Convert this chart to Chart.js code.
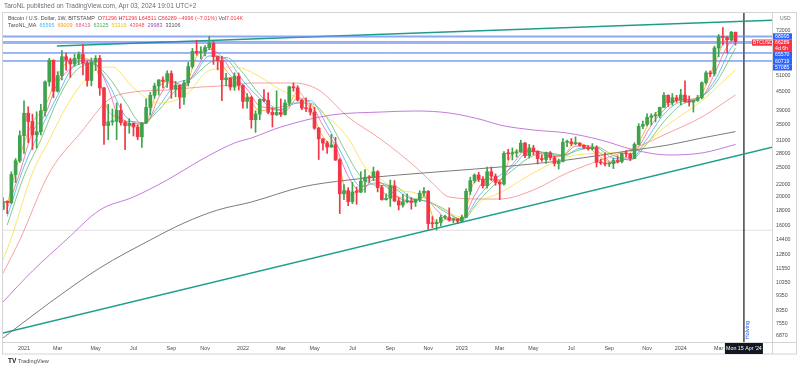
<!DOCTYPE html>
<html><head><meta charset="utf-8">
<script src="https://cdn.jsdelivr.net/npm/chart.js@4.4.1/dist/chart.umd.min.js"></script>
<style>html,body{margin:0;padding:0;background:#fff}#wrap{width:800px;height:370px;position:relative}</style>
</head><body><div id="wrap"><canvas id="c" width="800" height="370"></canvas></div>
<script>
// ---- weekly candles (week index 0 = Mon 4 Jan 2021) ----
const firstWeek = -5;
const opens = [18200,19350,19150,23800,26450,32100,38150,35800,32300,33100,38900,48600,57400,45200,51000,59000,57500,55800,58200,60000,56200,49100,56600,58200,46400,34700,35700,35800,39000,35500,34700,35300,34300,31800,35400,39900,43800,47100,49300,48800,51800,46000,47300,43200,48200,54700,61500,60900,61300,63300,65500,59000,57300,49400,50100,46700,50800,47300,41800,43100,36300,37900,42400,42200,38400,37700,38400,37800,41300,46800,46400,42200,39700,39500,38500,34000,31300,30300,29400,29900,26600,20500,21000,19300,20800,20750,22600,23300,23200,24300,21500,19600,19800,21800,19400,18800,19300,19400,19200,19600,20600,20900,16300,16280,16450,17100,17130,16750,16850,16600,17100,20900,22700,23700,22900,21800,24300,23500,22400,22100,28000,27900,28100,28300,30300,27500,29200,28400,26900,26700,28100,27100,25900,26300,30500,30600,30200,30300,29800,29300,29000,29300,26100,26000,25800,25850,26500,26300,28000,27900,26900,30000,34500,35000,37000,37400,37450,39900,43800,41400,43000,42200,43900,41700,41600,42100,43000,48300,52100,51700,63100,68900,68400,67200,71296];
const highs = [19900,19420,24300,26900,33300,41950,40100,37900,38600,40900,49000,58300,57600,52600,61800,60700,58400,60200,61200,64900,57000,58400,59500,59600,46600,40900,39400,41300,41000,36000,36600,35400,34900,35400,42600,44800,48100,49500,50500,52900,52900,48800,47500,49200,56500,62900,67000,63700,64300,69000,66300,59400,59200,51900,50300,52100,52000,47500,44400,43500,38900,42600,45800,44700,39800,45400,42600,42300,47000,48200,47200,42400,43000,40800,40000,34200,31400,30700,32400,31700,26900,22000,21500,22400,21600,24300,24700,23600,25200,24500,21900,20500,22800,22700,19900,20400,20500,19900,19700,21000,21500,21000,17200,16800,17400,17400,18400,17000,16950,17400,21300,23300,23900,24200,23400,25200,25200,23900,22600,28400,28900,29200,28800,31000,30500,30000,29800,28600,27700,28300,28400,27400,26800,31400,31000,31400,31800,30400,29900,29700,30200,29700,26800,28100,26100,27000,27500,28000,28600,28000,30400,35200,35900,38000,38000,38400,40000,44700,44000,44400,43800,45900,49000,43600,42200,43800,48600,52800,52900,64000,70000,73800,68900,71700,71296];
const lows = [18100,17600,19000,22350,26100,28000,30400,28850,29200,32300,37300,47000,43000,44900,49300,53200,50300,54800,55500,51300,47000,47100,53000,43800,30000,31100,34800,31100,34800,28800,32700,32000,31100,29300,35200,37600,42800,43900,46400,46600,42800,43300,39600,40800,47100,54000,59700,58000,59400,62300,55600,53300,42000,47100,45600,45500,45600,39700,39700,34000,32900,36300,41700,38000,34300,37500,37200,37600,40500,45200,41900,39200,38600,37600,33700,26700,28700,28000,29300,26500,17600,19600,18700,19000,18900,20700,20700,22400,22700,20800,19500,19500,18600,19300,18100,18500,19100,18200,18600,19300,20100,15600,15800,15500,16000,16900,16600,16400,16300,16500,17100,20400,22300,22500,21400,21400,22700,21900,19600,21900,26600,26600,27200,28200,27100,27000,27700,25800,26300,25900,26600,25400,24800,26200,29500,29700,29900,29600,29000,28700,28700,25200,25700,25400,25300,24900,26000,26000,27200,26500,26900,29900,33900,34600,34800,35700,36800,39900,40200,40600,41500,40700,41500,40300,38500,41800,42600,47700,50600,50900,59000,64600,60800,66500,64511];
const closes = [19350,19150,23800,26450,32100,38150,35800,32300,33100,38900,48600,57400,45200,51000,59000,57500,55800,58200,60000,56200,49100,56600,58200,46400,34700,35700,35800,39000,35500,34700,35300,34300,31800,35400,39900,43800,47100,49300,48800,51800,46000,47300,43200,48200,54700,61500,60900,61300,63300,65500,59000,57300,49400,50100,46700,50800,47300,41800,43100,36300,37900,42400,42200,38400,37700,38400,37800,41300,46800,46400,42200,39700,39500,38500,34000,31300,30300,29400,29900,26600,20500,21000,19300,20800,20750,22600,23300,23200,24300,21500,19600,19800,21800,19400,18800,19300,19400,19200,19600,20600,20900,16300,16280,16450,17100,17130,16750,16850,16600,17100,20900,22700,23700,22900,21800,24300,23500,22400,22100,28000,27900,28100,28300,30300,27500,29200,28400,26900,26700,28100,27100,25900,26300,30500,30600,30200,30300,29800,29300,29000,29300,26100,26000,25800,25850,26500,26300,28000,27900,26900,30000,34500,35000,37000,37400,37450,39900,43800,41400,43000,42200,43900,41700,41600,42100,43000,48300,52100,51700,63100,68900,68400,67200,71285,66289];
const volumeText = '7.014K';

// ---- moving averages (week index, value) ----
const shortX = [-4,-1,2,5,8,11,14,17,20,23,26,29,32,35,38,41,44,47,50,53,56,59,62,65,68,71,74,77,80,83,86,89,92,95,98,101,104,107,110,113,116,119,122,125,128,131,134,137,140,143,146,149,152,155,158,161,164,167,169];
const maOrange = [18840,27450,35420,40200,51200,57430,58130,54630,38930,36770,34770,35700,46730,48870,46230,59030,63370,55230,49200,44070,38870,39430,39170,45130,39230,31870,28630,20270,21380,23600,20300,20000,19300,20370,16340,16990,16850,22430,23000,22670,28000,28700,28170,27300,27570,30370,29370,27130,26050,27400,30470,36470,40380,42200,42400,44470,55630,68170,69009];
const maPink = [18240,24130,32960,37740,48220,53700,57540,56020,46320,36140,35760,35340,43100,48600,47300,53700,62500,58900,50860,45940,40300,39720,38720,42900,41260,34720,29500,23460,20890,22830,21680,19880,19220,19940,18110,16740,16890,20200,23080,22820,25700,28420,28460,27440,27580,29580,29720,27940,26050,26910,29460,34780,39110,42060,42480,43340,51640,63860,68419];
const midX = [-4,0,4,8,12,16,20,24,28,32,36,40,44,48,52,56,60,64,68,72,76,80,84,88,92,96,100,104,108,112,116,120,124,128,132,136,140,144,148,152,156,160,164,168,169];
const maBlue = [17200,25290,33830,43790,54870,56200,48130,37400,35140,40230,47730,50390,59340,57990,49060,42800,39040,40970,42060,34670,27000,21650,22350,21370,19670,19330,17820,16850,20110,23040,25190,28470,28160,27360,29090,29140,26940,26750,31330,37860,41660,42500,48840,63240,65595];
const maGreen = [16100,23520,31090,42270,52400,55930,50570,41840,35280,39070,45490,50090,56210,58700,51990,44040,39800,41270,41180,36810,29060,23430,21860,21720,19870,19280,18170,16730,19400,22140,24560,27090,28170,27680,28760,29460,27520,26590,30230,35770,40670,42520,47500,59330,63125];
const yellowX = [-5,-3,2,6,10,14,18,21,26,32,39,43,47,50,54,61,66,70,77,81,85,89,93,97,101,104,109,113,121,129,137,145,153,161,169];
const maYellow = [12300,14600,24070,31040,40030,48540,54070,54490,46340,41260,44590,52030,54070,54490,52430,45640,42250,39110,31500,25200,22800,21110,20630,19100,17680,17140,19540,20630,24070,27220,28080,28740,35000,42000,53319];
const redX = [-5,-1,6,14,20,26,34,42,50,54,64,70,77,85,93,97,101,109,113,121,129,137,145,153,161,169];
const maRed = [11100,14360,24070,33530,42250,44940,45640,46700,47430,48170,48170,45640,37060,31040,25200,22280,20000,19690,19690,21110,24070,26600,29180,32760,37060,43948];
const purpleX = [-5,2,10,18,26,34,42,50,54,61,73,85,93,101,109,113,121,129,137,145,153,161,169];
const maPurple = [8900,11300,14360,18090,20000,22800,26600,30330,31520,34310,37640,38520,38820,38220,36210,34840,33530,32760,31040,28740,27650,28080,29983];
const grayX = [-5,6,18,30,38,46,54,66,77,89,101,113,129,145,153,161,169];
const maGray = [6740,8830,11570,14360,16370,18090,19240,21600,22800,23700,24440,25200,26600,28740,29860,31520,33106];

// ---- levels, trend lines, axis labels ----
const blueLevels = [68995, 65570, 60719, 57085];
const cycleLow = 15476;
const upperTrendX = [7.8, 178], upperTrendY = [64070, 78200];
const lowerTrendX = [-5, 178], lowerTrendY = [7000, 29450];
const halvingWeek = 171, halvingLabel = "Mon 15 Apr '24";
const xTickPos = [0,8,17,26,35,43,52,61,69,78,87,96,104,113,121,130,139,148,156,165];
const xTickLabels = ['2021','Mar','May','Jul','Sep','Nov','2022','Mar','May','Jul','Sep','Nov','2023','Mar','May','Jul','Sep','Nov','2024','Mar'];
const yTicks = [72000,51000,45000,39000,35000,31000,28000,25000,22000,20000,18000,16000,14400,12800,11550,10350,9350,8350,7550,6870];

const UP = '#3fa34d', DOWN = '#f23645';
const maDefs = [
  {x: midX, y: maBlue, c: 'rgba(79,180,240,0.85)', t: '#4fb4f0'},
  {x: shortX, y: maOrange, c: 'rgba(255,152,0,0.75)', t: '#ff9800'},
  {x: shortX, y: maPink, c: 'rgba(236,90,150,0.75)', t: '#ec5a96'},
  {x: midX, y: maGreen, c: 'rgba(102,187,106,0.8)', t: '#4caf50'},
  {x: yellowX, y: maYellow, c: 'rgba(250,220,60,0.75)', t: '#e8c21a'},
  {x: redX, y: maRed, c: 'rgba(245,110,110,0.65)', t: '#ef5350'},
  {x: purpleX, y: maPurple, c: 'rgba(180,90,210,0.8)', t: '#ab47bc'},
  {x: grayX, y: maGray, c: 'rgba(110,110,110,0.9)', t: '#555555'}
];

const yMin = 6538, yMax = 83280, xMin = -4.99, xMax = 177.67;
const weeks = opens.map((_, k) => firstWeek + k);
const candleColor = ctx => closes[ctx.dataIndex] >= opens[ctx.dataIndex] ? UP : DOWN;
const pts = (xs, ys) => xs.map((x, k) => ({x, y: ys[k]}));
const hline = (v, color, w, order) => ({type:'line', data: pts([xMin, xMax], [v, v]), borderColor: color, borderWidth: w, pointRadius: 0, order});

const datasets = [];
blueLevels.forEach((v, k) => datasets.push(hline(v, k === 0 ? 'rgba(100,140,245,0.75)' : '#3d6df0', k === 0 ? 2 : 1, 6)));
datasets.push(hline(closes[closes.length-1], 'rgba(242,54,69,0.6)', 1, 6));
datasets.push(hline(cycleLow, 'rgba(0,0,0,0.12)', 1, 6));
datasets.push({type:'line', data: pts(upperTrendX, upperTrendY), borderColor:'#1e9e8a', borderWidth:1.5, pointRadius:0, order:6});
datasets.push({type:'line', data: pts(lowerTrendX, lowerTrendY), borderColor:'#1e9e8a', borderWidth:1.5, pointRadius:0, order:6});
datasets.push({type:'line', data: pts([halvingWeek, halvingWeek], [yMin, yMax]), borderColor:'#2a2a2a', borderWidth:1.3, pointRadius:0, order:6});
maDefs.slice().reverse().forEach(m => datasets.push({type:'line', data: pts(m.x, m.y), borderColor: m.c, borderWidth: 1, pointRadius: 0, cubicInterpolationMode:'monotone', order: 5}));
datasets.push({type:'bar', data: weeks.map((x, k) => ({x, y:[lows[k], highs[k]]})), backgroundColor: candleColor, barThickness: 1, grouped: false, order: 3});
datasets.push({type:'bar', data: weeks.map((x, k) => ({x, y:[opens[k], closes[k]]})), backgroundColor: candleColor, barThickness: 3, minBarLength: 1, grouped: false, order: 2});

const FONT = "'Liberation Sans', Arial, sans-serif";
Chart.defaults.font.family = FONT;

function segs(ctx, x, y, list, gap) {
  for (const [t, c] of list) { ctx.fillStyle = c; ctx.fillText(t, x, y); x += ctx.measureText(t).width + (gap || 0); }
}

const overlay = {
  id: 'overlay',
  afterDraw(chart) {
    const ctx = chart.ctx, xs = chart.scales.x, ys = chart.scales.y, ca = chart.chartArea;
    ctx.save();
    // frame & separators
    ctx.strokeStyle = '#d4d4d4'; ctx.lineWidth = 1;
    ctx.strokeRect(2.5, 12.5, 794, 341.5);
    ctx.beginPath();
    ctx.moveTo(Math.round(ca.right) + 0.5, 12); ctx.lineTo(Math.round(ca.right) + 0.5, 354);
    ctx.moveTo(3, Math.round(ca.bottom) + 0.5); ctx.lineTo(796, Math.round(ca.bottom) + 0.5);
    ctx.stroke();

    // header
    ctx.textBaseline = 'middle'; ctx.textAlign = 'left';
    ctx.font = '6.5px ' + FONT;
    ctx.fillStyle = '#6a6d78';
    ctx.fillText('TaroNL published on TradingView.com, Apr 03, 2024 19:01 UTC+2', 4, 6);
    const n = closes.length - 1;
    const chg = closes[n] - closes[n-1];
    const pct = (chg / closes[n-1] * 100).toFixed(2);
    const R = '#f23645', D = '#4a4a4a';
    ctx.font = '5.4px ' + FONT;
    segs(ctx, 8, 18.5, [['Bitcoin / U.S. Dollar, 1W, BITSTAMP  ', D], ['O', D], [String(opens[n]), R], [' H', D], [String(highs[n]), R],
      [' L', D], [String(lows[n]), R], [' C', D], [String(closes[n]), R], [' \u2212' + Math.abs(chg) + ' (\u2212' + Math.abs(pct) + '%)', R], [' Vol', D], [volumeText, R]], 0);
    const maSegs = [['TaroNL_MA', D]];
    maDefs.forEach(m => maSegs.push([String(m.y[m.y.length-1]), m.t]));
    segs(ctx, 8, 25.5, maSegs, 3);

    // USD label
    ctx.font = '5px ' + FONT; ctx.fillStyle = '#6a6d78';
    ctx.fillText('USD', 780, 19);

    // right axis price boxes
    const boxes = [
      {v: blueLevels[0], c: '#2962ff', t: [String(blueLevels[0])]},
      {v: closes[n], c: '#f23645', t: [String(closes[n]), '4d 6h']},
      {v: blueLevels[1], c: '#2962ff', t: [String(blueLevels[1])]},
      {v: blueLevels[2], c: '#2962ff', t: [String(blueLevels[2])]},
      {v: blueLevels[3], c: '#2962ff', t: [String(blueLevels[3])]}
    ].map(b => ({...b, p: ys.getPixelForValue(b.v)})).sort((a, b) => a.p - b.p);
    let prev = -1e9; const lh = 6.2;
    ctx.font = '5.2px ' + FONT;
    for (const b of boxes) {
      let top = b.p - lh / 2; if (top < prev) top = prev;
      ctx.fillStyle = b.c; ctx.fillRect(ca.right + 1, top, 19, lh * b.t.length);
      ctx.fillStyle = '#fff';
      b.t.forEach((t, k) => ctx.fillText(t, ca.right + 3, top + lh * (k + 0.5)));
      if (b.c === '#f23645') {
        ctx.fillStyle = '#f23645'; ctx.fillRect(ca.right - 20, top, 20, lh);
        ctx.fillStyle = '#fff'; ctx.font = '4.8px ' + FONT;
        ctx.fillText('BTCUSD', ca.right - 19, top + lh / 2);
        ctx.font = '5.2px ' + FONT;
      }
      prev = top + lh * b.t.length;
    }

    // halving label + date box
    const hx = xs.getPixelForValue(halvingWeek);
    ctx.save();
    ctx.translate(hx + 3.5, 330); ctx.rotate(-Math.PI / 2);
    ctx.textAlign = 'center'; ctx.fillStyle = '#2962ff'; ctx.font = '5.5px ' + FONT;
    ctx.fillText('Halving', 0, 0);
    ctx.restore();
    ctx.fillStyle = '#131722'; ctx.fillRect(hx - 19, ca.bottom + 1, 38, 11);
    ctx.fillStyle = '#fff'; ctx.textAlign = 'center'; ctx.font = '5.3px ' + FONT;
    ctx.fillText(halvingLabel, hx, ca.bottom + 6.5);

    // logo
    ctx.textAlign = 'left'; ctx.fillStyle = '#131722'; ctx.font = 'bold 6.5px ' + FONT;
    ctx.fillText('TV', 8, 361.5);
    ctx.font = '5.6px ' + FONT; ctx.fillStyle = '#4a4a4a';
    ctx.fillText('TradingView', 18, 361.5);
    ctx.restore();
  }
};

new Chart(document.getElementById('c'), {
  type: 'line',
  data: { datasets },
  options: {
    responsive: false, animation: false, devicePixelRatio: 1,
    layout: { padding: { left: 3, right: 4, top: 12, bottom: 16 }, autoPadding: false },
    plugins: { legend: { display: false }, tooltip: { enabled: false } },
    scales: {
      x: {
        type: 'linear', min: xMin, max: xMax, offset: false,
        grid: { display: false, drawTicks: false }, border: { display: false },
        afterBuildTicks: s => { s.ticks = xTickPos.map(v => ({ value: v })); },
        afterFit: s => { s.height = 12; },
        ticks: { autoSkip: false, maxRotation: 0, padding: 3, color: '#4a4a4a', font: { size: 5.4 },
          callback: v => { const k = xTickPos.indexOf(v); return k >= 0 ? xTickLabels[k] : ''; } }
      },
      y: {
        type: 'logarithmic', position: 'right', min: yMin, max: yMax,
        grid: { display: false, drawTicks: false }, border: { display: false },
        afterBuildTicks: s => { s.ticks = yTicks.map(v => ({ value: v })); },
        afterFit: s => { s.width = 24; },
        ticks: { autoSkip: false, padding: 4, color: '#4a4a4a', font: { size: 5.2 }, callback: v => String(v) }
      }
    }
  },
  plugins: [overlay]
});
</script>
</body></html>
